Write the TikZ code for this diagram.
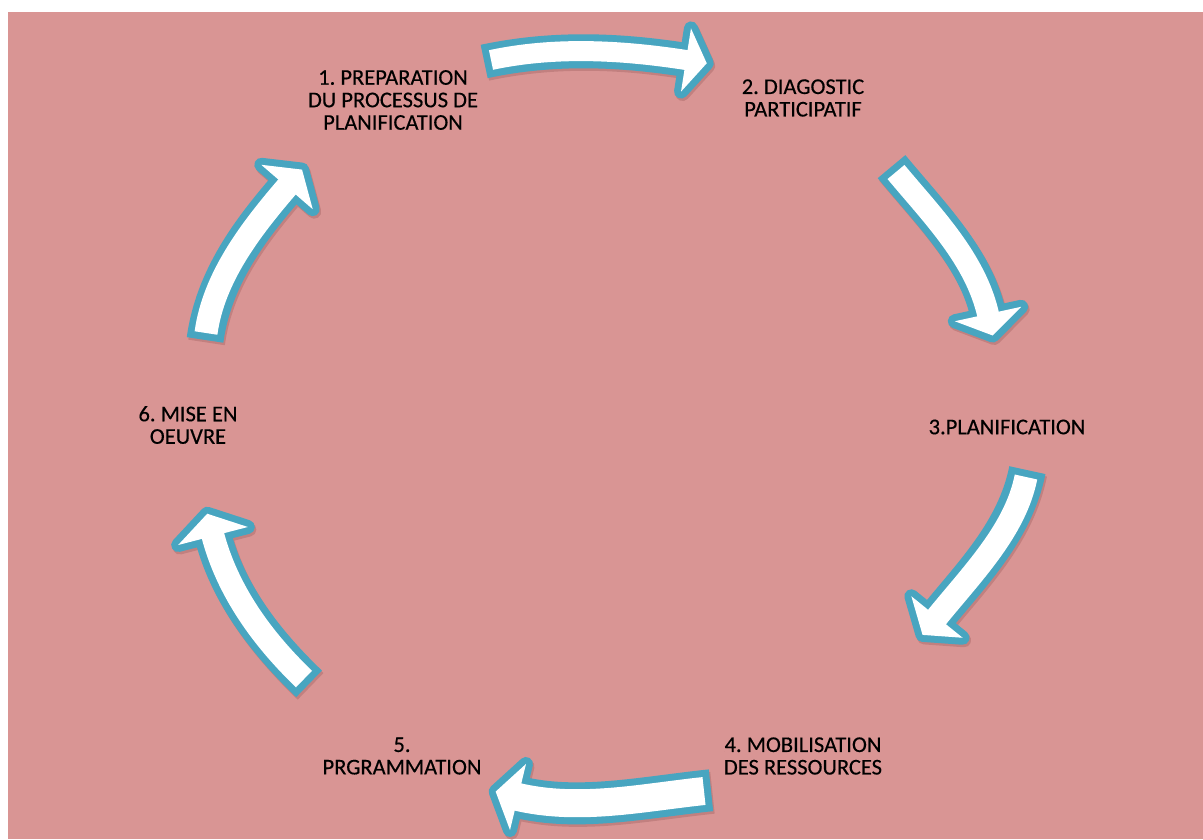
\documentclass[tikz,border=0pt]{standalone}
\usepackage{fontspec}
\setmainfont{Carlito}
\newfontfamily\lblfont{Carlito}[FakeBold=0.35]
\usetikzlibrary{calc}
\definecolor{bgpink}{RGB}{217,149,148}
\definecolor{tealarrow}{RGB}{72,165,192}
\definecolor{shadowpink}{RGB}{194,128,127}

% #1 name, #2 tail, #3 control 1, #4 control 2, #5 head base, #6 body width, #7 head half-width, #8 head length
\newcommand\cyclearrow[8]{%
  \coordinate (#1t) at #2;
  \coordinate (#1c) at #3;
  \coordinate (#1k) at #4;
  \coordinate (#1b) at #5;
  \coordinate (#1p) at ($(#1b)!-#8pt!(#1k)$);
  \coordinate (#1l) at ($(#1b)!#7pt!90:(#1k)$);
  \coordinate (#1r) at ($(#1b)!#7pt!-90:(#1k)$);
  % soft shadow
  \draw[shadowpink, line width=#6pt+14pt, shorten <=-7pt]
    ([shift={(1.5,2.5)}]#1t) .. controls ([shift={(1.5,2.5)}]#1c) and ([shift={(1.5,2.5)}]#1k) .. ([shift={(1.5,2.5)}]#1b);
  \filldraw[shadowpink, line width=14pt, line join=round]
    ([shift={(1.5,2.5)}]#1l) -- ([shift={(1.5,2.5)}]#1p) -- ([shift={(1.5,2.5)}]#1r) -- cycle;
  % teal outline
  \draw[tealarrow, line width=#6pt+14pt, shorten <=-7pt] (#1t) .. controls (#1c) and (#1k) .. (#1b);
  \filldraw[tealarrow, line width=14pt, line join=round] (#1l) -- (#1p) -- (#1r) -- cycle;
  % white body
  \draw[white, line width=#6pt, shorten >=-2pt] (#1t) .. controls (#1c) and (#1k) .. (#1b);
  \fill[white] (#1l) -- (#1p) -- (#1r) -- cycle;
}

\begin{document}
\frenchspacing
\begin{tikzpicture}[x=1pt,y=-1pt,
  lbl/.style={align=center, inner sep=0pt, text=black,
    font=\lblfont\fontsize{22.5}{22.5}\selectfont}]
\useasboundingbox (0,0) rectangle (1203,839);
\fill[white] (0,0) rectangle (1203,839);
\fill[bgpink] (8,12) rectangle (1203,839);

\cyclearrow{a}{(491,60)}{(554.6,46.4)}{(621.8,49.9)}{(686,60)}{20}{32}{21}
\cyclearrow{b}{(896,172)}{(931.8,215.1)}{(976.1,259.3)}{(988,314)}{22}{34}{22}
\cyclearrow{c}{(1026,477)}{(1015.2,530.9)}{(971.7,574.1)}{(937,617)}{23}{33}{23}
\cyclearrow{d}{(704,791)}{(642.3,797.5)}{(578.3,811.6)}{(518,797)}{28}{34}{23}
\cyclearrow{e}{(304,679)}{(263,639.7)}{(227.3,591.3)}{(213,536)}{23}{36}{23}
\cyclearrow{f}{(206,333)}{(213.6,277.6)}{(250.4,229.4)}{(287,187)}{23}{34}{23}

\node[lbl] (l1) at (393,100) {1. PREPARATION\\DU PROCESSUS DE\\PLANIFICATION};
\node[lbl] (l2) at (803,98) {2. DIAGOSTIC\\PARTICIPATIF};
\node[lbl] (l3) at (1007,427) {3.PLANIFICATION};
\node[lbl] (l4) at (803,756) {4. MOBILISATION\\DES RESSOURCES};
\node[lbl] (l5) at (402,756) {5.\\PRGRAMMATION};
\node[lbl] (l6) at (188,425) {6. MISE EN\\OEUVRE};
\end{tikzpicture}
\end{document}
